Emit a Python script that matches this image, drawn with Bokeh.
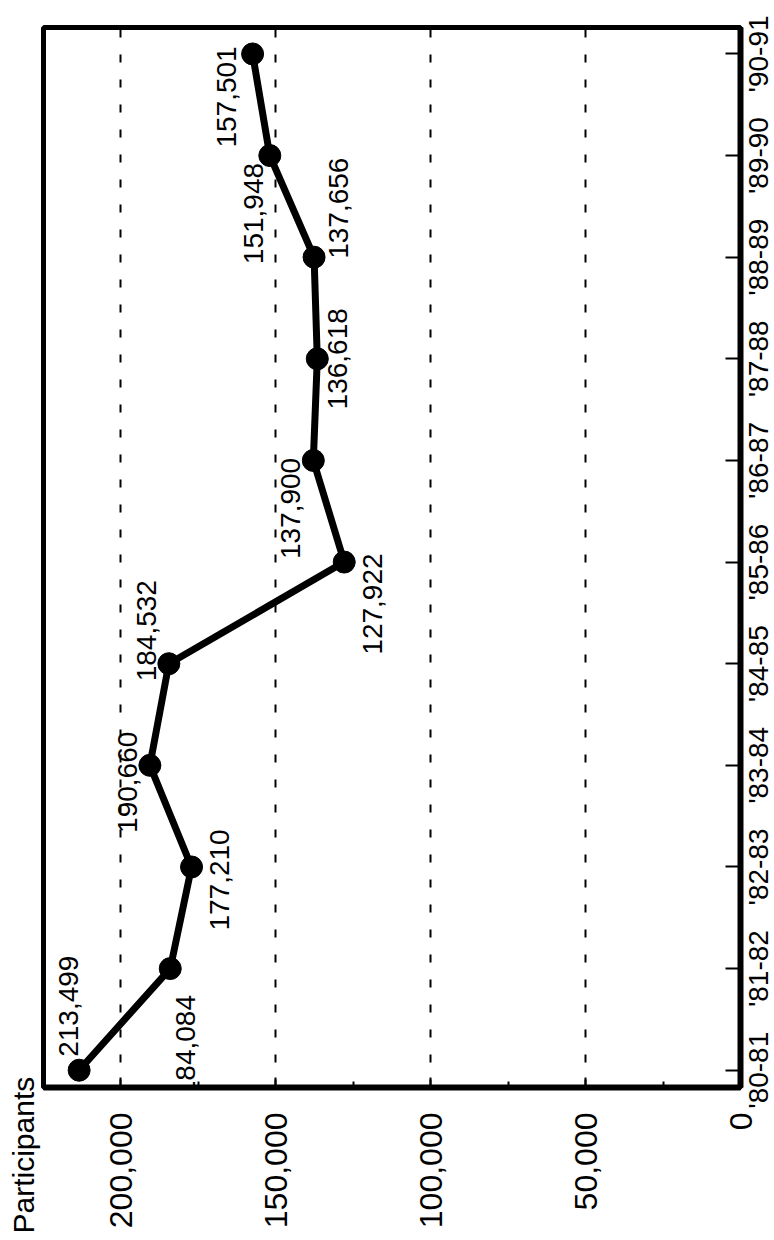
import math
from bokeh.plotting import figure
from bokeh.layouts import row
from bokeh.models import (Range1d, FixedTicker, NumeralTickFormatter, Title,
                          ColumnDataSource)
from bokeh.core.properties import value
from bokeh.embed import file_html
from bokeh.resources import INLINE

# ---- data ----
years = ["'80-81", "'81-82", "'82-83", "'83-84", "'84-85", "'85-86",
         "'86-87", "'87-88", "'88-89", "'89-90", "'90-91"]
participants = [213499, 184084, 177210, 190660, 184532, 127922,
                137900, 136618, 137656, 151948, 157501]
value_ticks = [0, 50000, 100000, 150000, 200000]
minor_value_ticks = [25000, 75000, 125000, 175000]
grid_ticks = [50000, 100000, 150000, 200000]
axis_title = "Participants"

# label offsets in screen pixels (styling only)
label_dx = [-11, 15, 28, -22, -22, 28, -23, 20, 24, -16, -26]
label_dy = [-64, 77, 13, 17, -33, 42, 48, 0, -49, 58, 43]

idx = list(range(len(years)))
labels = [f"{v:,}" for v in participants]
src = ColumnDataSource(dict(v=participants, i=idx, lab=labels, dx=label_dx, dy=label_dy))

FONT = "Liberation Sans"
TOP, BOTTOM = 27, 153
STRIP_W = 34

y_range = Range1d(-0.17, 10.26)

p = figure(width=774, height=1240, output_backend="svg", toolbar_location=None,
           x_range=Range1d(225000, 0), y_range=y_range,
           x_axis_location="below", y_axis_location="right",
           min_border_left=43, min_border_top=TOP, min_border_right=STRIP_W,
           min_border_bottom=BOTTOM)
p.background_fill_color = "white"
p.border_fill_color = "white"
p.outline_line_color = "black"
p.outline_line_width = 5

# value axis (bottom)
xa = p.xaxis[0]
xa.ticker = FixedTicker(ticks=value_ticks, minor_ticks=minor_value_ticks)
xa.formatter = NumeralTickFormatter(format="0,0")
xa.major_label_orientation = math.pi / 2
xa.major_label_text_font = FONT
xa.major_label_text_font_size = "32px"
xa.major_label_text_color = "black"
xa.major_label_standoff = 25
xa.major_tick_in = 10
xa.major_tick_out = 0
xa.minor_tick_in = 6
xa.minor_tick_out = 0
xa.major_tick_line_width = 2
xa.minor_tick_line_width = 2
xa.major_tick_line_color = "black"
xa.minor_tick_line_color = "black"
xa.axis_line_width = 6
xa.axis_line_color = "black"

# year axis (right side of the frame): tick marks only
ya = p.yaxis[0]
ya.ticker = FixedTicker(ticks=idx, minor_ticks=[])
ya.major_label_overrides = {i: "" for i in idx}
ya.major_label_text_font_size = "0px"
ya.major_label_standoff = 0
ya.major_tick_in = 15
ya.major_tick_out = 0
ya.minor_tick_in = 0
ya.minor_tick_out = 0
ya.major_tick_line_width = 2
ya.major_tick_line_color = "black"
ya.axis_line_width = 6
ya.axis_line_color = "black"

# grid
p.xgrid.ticker = FixedTicker(ticks=grid_ticks)
p.xgrid.grid_line_color = "black"
p.xgrid.grid_line_width = 2
p.xgrid.grid_line_dash = "8 17"
p.ygrid.grid_line_color = None

# series
p.line(x="v", y="i", source=src, line_color="black", line_width=7)
p.scatter(x="v", y="i", source=src, size=22, fill_color="black", line_color="black")
p.text(x="v", y="i", text="lab", source=src, angle=math.pi / 2,
       x_offset="dx", y_offset="dy", text_align="center", text_baseline="middle",
       text_font=value(FONT), text_font_size="28px", text_color="black")

# axis title at the lower left, reading upwards
p.add_layout(Title(text=axis_title, align="left", offset=-146, standoff=8,
                   text_font=FONT, text_font_size="30px", text_font_style="normal",
                   text_color="black"), "left")

# year labels: a transparent narrow strip over the right border, sharing the
# year scale; its labels read upwards and are centred on the ticks
strip = figure(width=STRIP_W, height=1240, output_backend="svg", toolbar_location=None,
               x_range=Range1d(0, 1), y_range=y_range,
               x_axis_location=None, y_axis_location="left",
               min_border_left=STRIP_W - 2, min_border_right=0, min_border_top=TOP,
               min_border_bottom=BOTTOM, margin=(0, 0, 0, -STRIP_W))
strip.outline_line_color = None
strip.background_fill_alpha = 0
strip.border_fill_alpha = 0
strip.xgrid.grid_line_color = None
strip.ygrid.grid_line_color = None
sa = strip.yaxis[0]
sa.ticker = FixedTicker(ticks=idx, minor_ticks=[])
sa.major_label_overrides = {i: y for i, y in zip(idx, years)}
sa.major_label_orientation = "vertical"
sa.major_label_text_font = FONT
sa.major_label_text_font_size = "28px"
sa.major_label_text_color = "black"
sa.major_label_standoff = 0
sa.major_tick_in = 0
sa.major_tick_out = 0
sa.minor_tick_in = 0
sa.minor_tick_out = 0
sa.axis_line_color = None

layout = row(p, strip)
open("out.html", "w").write(file_html(layout, INLINE))
